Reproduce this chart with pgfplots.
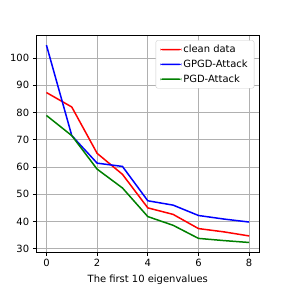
\documentclass[border=0pt]{standalone}
\usepackage{fontspec}
\setmainfont{DejaVu Sans}
\usepackage{pgfplots}
\pgfplotsset{compat=1.18}
\definecolor{gridgray}{HTML}{B0B0B0}
\definecolor{mplgreen}{HTML}{008000}
\begin{document}
\begin{tikzpicture}
\begin{axis}[
  name=ax,
  scale only axis,
  width=223bp, height=217bp,
  xmin=-0.4, xmax=8.4,
  ymin=28.7, ymax=108.3,
  xtick={0,2,4,6,8},
  ytick={30,40,50,60,70,80,90,100},
  grid=major,
  major grid style={gridgray, line width=0.8bp},
  axis line style={black, line width=0.8bp},
  tick align=outside,
  major tick length=3.5bp,
  tick style={black, line width=0.8bp},
  xtick pos=bottom, ytick pos=left,
  /pgf/number format/assume math mode=true,
  tick label style={font=\fontsize{10}{12}\selectfont},
  xticklabel style={inner sep=0pt, yshift=-3.5bp, anchor=north},
  yticklabel style={inner sep=0pt, xshift=-3.5bp, anchor=east},
  xlabel={The first 10 eigenvalues},
  xlabel style={font=\fontsize{10}{12}\selectfont, inner sep=0pt, anchor=north, at={(axis description cs:0.5,0)}, yshift=-22bp},
  legend style={
    at={(1,1)}, xshift=-5bp, yshift=-5bp, anchor=north east,
    draw=black!20, rounded corners=2bp, fill=white,
    font=\fontsize{10}{12}\selectfont,
    inner xsep=4.5bp, inner ysep=2.5bp,
    row sep=1.8bp,
    cells={anchor=west},
  },
  legend image code/.code={\fill[#1, draw=none] (0bp,-0.75bp) rectangle (21bp,0.75bp);},
]
\addplot[red, line width=1.5bp] coordinates {(0,87.3) (1,82.0) (2,65.0) (3,57.3) (4,45.0) (5,42.6) (6,37.4) (7,36.2) (8,34.7)};
\addlegendentry{clean data}
\addplot[blue, line width=1.5bp] coordinates {(0,104.7) (1,71.5) (2,61.4) (3,60.2) (4,47.6) (5,46.0) (6,42.2) (7,40.9) (8,39.8)};
\addlegendentry{GPGD-Attack}
\addplot[mplgreen, line width=1.5bp] coordinates {(0,78.9) (1,71.5) (2,59.2) (3,52.3) (4,41.8) (5,38.6) (6,33.8) (7,33.0) (8,32.3)};
\addlegendentry{PGD-Attack}
\end{axis}
\path ([shift={(-36.3bp,-35.7bp)}]ax.south west) rectangle +(288bp,288bp);
\end{tikzpicture}
\end{document}
